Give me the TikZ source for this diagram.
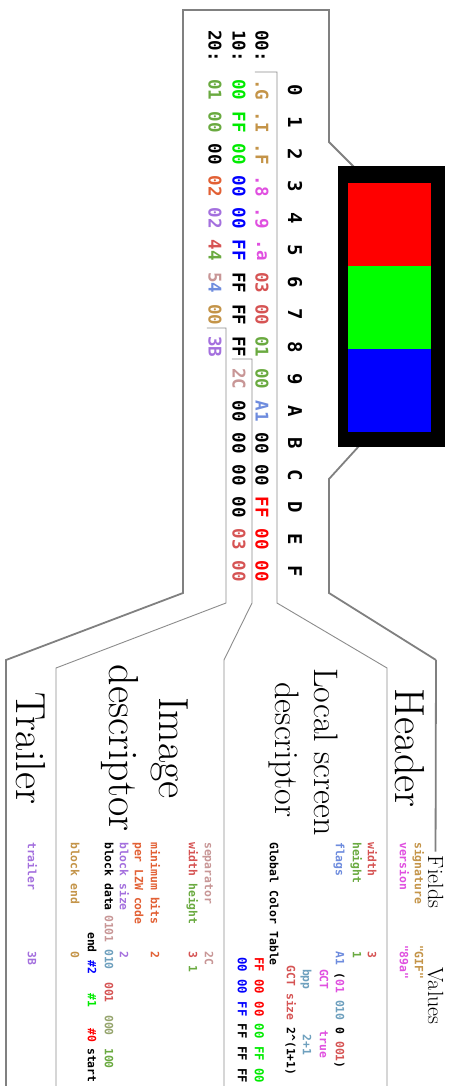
\documentclass[tikz,border=0pt]{standalone}
\usepackage{fontspec}
\newfontfamily\monof{DejaVu Sans Mono}
\definecolor{cgold}{RGB}{196,148,72}
\definecolor{cmag}{RGB}{224,80,224}
\definecolor{csal}{RGB}{214,84,84}
\definecolor{colive}{RGB}{106,170,64}
\definecolor{csteel}{RGB}{110,140,222}
\definecolor{cteal}{RGB}{110,160,190}
\definecolor{crosy}{RGB}{200,150,150}
\definecolor{corange}{RGB}{226,96,52}
\definecolor{cpurple}{RGB}{164,112,222}
\definecolor{cmix}{RGB}{150,165,110}
\definecolor{cred}{RGB}{255,0,0}
\definecolor{cgreen}{RGB}{0,235,0}
\definecolor{cblue}{RGB}{0,0,255}
\definecolor{clinek}{RGB}{128,128,128}
\definecolor{clinet}{RGB}{140,140,140}
\begin{document}
\begin{tikzpicture}[x=1pt,y=1pt,
  thickl/.style={draw=clinek, line width=1.8pt},
  thinl/.style={draw=clinet, line width=0.9pt},
  hexd/.style={font=\monof\bfseries\fontsize{17.5}{17.5}\selectfont, inner sep=0pt},
  hexh/.style={font=\monof\bfseries\fontsize{19}{19}\selectfont, inner sep=0pt},
  fld/.style={font=\monof\bfseries\fontsize{11.4}{11.4}\selectfont, inner sep=0pt, anchor=mid west},
  gctv/.style={font=\monof\bfseries\fontsize{12.3}{12.3}\selectfont, inner sep=0pt, anchor=mid west},
  ttl/.style={font=\fontsize{42}{50}\selectfont, inner sep=0pt, anchor=base},
  ttls/.style={font=\fontsize{34}{41}\selectfont, inner sep=0pt, anchor=base},
  lbl/.style={font=\fontsize{22}{26}\selectfont, inner sep=0pt, anchor=base},
]
\begin{scope}[rotate=-90, transform shape]
\useasboundingbox (0,0) rectangle (1086,-449);
\fill[white] (0,0) rectangle (1086,-449);

% ---------- connector / frame lines ----------
\draw[thickl] (440,-84.5) -- (479,-120) -- (593,-120) -- (660,-13) coordinate (ftop);
\draw[thickl] (172,-90) -- (142,-120) -- (10,-120) -- (10,-266) -- (593,-266) -- (660,-443) -- (1086,-443);
\draw[thinl] (72,-194) -- (72,-172) -- (603,-172) -- (668,-62) -- (1086,-62);
\draw[thinl] (359,-217) -- (359,-197) -- (603,-197) -- (660,-225) -- (1086,-225);
\draw[thinl] (328,-242) -- (328,-223) -- (603,-223) -- (668,-393) -- (1086,-393);

% ---------- magnified image ----------
\fill[black] (166,-4.5) rectangle (447,-111);
\fill[cred] (183,-18) rectangle (266,-101);
\fill[green] (266,-18) rectangle (349,-101);
\fill[cblue] (349,-18) rectangle (432,-101);

% ---------- hex dump ----------
\foreach \c/\t in {0/0,1/1,2/2,3/3,4/4,5/5,6/6,7/7,8/8,9/9,10/A,11/B,12/C,13/D,14/E,15/F}
  \node[hexh] (ch-\c) at ({90+32.1*\c},-154) {\t};
\node[hexd] (rl0) at (46,-187) {00:};
\node[hexd] (rl1) at (46,-210) {10:};
\node[hexd] (rl2) at (46,-234) {20:};
\foreach \c/\t/\k in {0/.G/cgold,1/.I/cgold,2/.F/cgold,3/.8/cmag,4/.9/cmag,5/.a/cmag,
  6/03/csal,7/00/csal,8/01/colive,9/00/colive,10/A1/csteel,11/00/black,12/00/black,
  13/FF/cred,14/00/cred,15/00/cred}
  \node[hexd,text=\k] (b0-\c) at ({90+32.1*\c},-187) {\t};
\foreach \c/\t/\k in {0/00/cgreen,1/FF/cgreen,2/00/cgreen,3/00/cblue,4/00/cblue,5/FF/cblue,
  6/FF/black,7/FF/black,8/FF/black,9/2C/crosy,10/00/black,11/00/black,12/00/black,
  13/00/black,14/03/csal,15/00/csal}
  \node[hexd,text=\k] (b1-\c) at ({90+32.1*\c},-210) {\t};
\foreach \c/\t/\k in {0/01/colive,1/00/colive,2/00/black,3/02/corange,4/02/cpurple,
  7/00/cgold,8/3B/cpurple}
  \node[hexd,text=\k] (b2-\c) at ({90+32.1*\c},-234) {\t};
\node[hexd] (b2-5) at ({90+32.1*5},-234) {\textcolor{csal}{4}\textcolor{colive}{4}};
\node[hexd] (b2-6) at ({90+32.1*6},-234) {\textcolor{crosy}{5}\textcolor{csteel}{4}};

% ---------- section titles ----------
\node[ttl] (thdr) at (748,-54) {Header};
\node[ttls] (tlsd1) at (752,-134) {Local screen};
\node[ttls] (tlsd2) at (750,-173) {descriptor};
\node[ttl] (timg1) at (748,-289) {Image};
\node[ttl] (timg2) at (748,-339) {descriptor};
\node[ttl] (ttrl) at (748,-432) {Trailer};

\node[lbl] (fields) at (882,-21) {Fields};
\node[lbl] (values) at (996,-21) {Values};
\draw[thickl] (ftop) -- ([xshift=-4pt]fields.west);

% ---------- fields ----------
\def\cw{6.86}
% header
\node[fld,text=cgold] (f-sig) at (842,-32) {signature};
\node[fld,text=cgold] (v-sig) at ({842+15*\cw},-32) {"GIF"};
\node[fld,text=cmag] (f-ver) at (842,-47) {version};
\node[fld,text=cmag] (v-ver) at ({842+15*\cw},-47) {"89a"};
% logical screen descriptor
\node[fld,text=csal] (f-w) at (842,-79) {width};
\node[fld,text=csal] (v-w) at ({842+16*\cw},-79) {3};
\node[fld,text=colive] (f-h) at (842,-94) {height};
\node[fld,text=colive] (v-h) at ({842+16*\cw},-94) {1};
\node[fld,text=csteel] (f-fl) at (842,-111) {flags};
\node[fld] (v-fl) at ({842+16*\cw},-111) {\textcolor{csteel}{A1} (\textcolor{cmag}{01} \textcolor{cteal}{010} 0 \textcolor{csal}{001})};
\node[fld,text=cmag] (f-gct) at ({842+18.5*\cw},-127) {GCT};
\node[fld,text=cmag] (v-gct) at ({842+27.5*\cw},-127) {true};
\node[fld,text=cteal] (f-bpp) at ({842+18.5*\cw},-144) {bpp};
\node[fld,text=cteal] (v-bpp) at ({842+28*\cw},-144) {2+1};
\node[fld,text=csal] (f-gsz) at ({842+18*\cw},-160) {GCT size};
\node[fld] (v-gsz) at ({842+27*\cw},-160) {2\^{}(1+1)};
\node[fld] (f-gtab) at (842,-177) {Global Color Table};
\node[gctv] (v-gt1) at (957,-192) {\textcolor{cred}{FF 00 00} \textcolor{cgreen}{00 FF 00}};
\node[gctv] (v-gt2) at (957,-209) {\textcolor{cblue}{00 00 FF} FF FF FF};
% image descriptor
\node[fld,text=crosy] (f-sep) at (842,-242) {separator};
\node[fld,text=crosy] (v-sep) at ({842+16*\cw},-242) {2C};
\node[fld] (f-wh) at (842,-258) {\textcolor{csal}{width} \textcolor{colive}{height}};
\node[fld] (v-wh) at ({842+16*\cw},-258) {\textcolor{csal}{3} \textcolor{colive}{1}};
\node[fld,text=corange] (f-min) at (842,-296) {minimum bits};
\node[fld,text=corange] (v-min) at ({842+16*\cw},-296) {2};
\node[fld,text=corange] (f-lzw) at (842,-312) {per LZW code};
\node[fld,text=cpurple] (f-bs) at (842,-327) {block size};
\node[fld,text=cpurple] (v-bs) at ({842+16*\cw},-327) {2};
\node[fld] (f-bd) at (842,-342) {block data};
\node[fld,text=crosy] (v-bd1) at (915,-342) {0101};
\node[fld,text=cteal] (v-bd2) at (949,-342) {010};
\node[fld,text=csal] (v-bd3) at (982,-342) {001};
\node[fld,text=cmix] (v-bd4) at (1015,-342) {000};
\node[fld,text=colive] (v-bd5) at (1048,-342) {100};
\node[fld] (c-end) at (932,-359) {end};
\node[fld,text=cblue] (c-2) at (960,-359) {\#2};
\node[fld,text=cgreen] (c-1) at (993,-359) {\#1};
\node[fld,text=cred] (c-0) at (1028,-359) {\#0};
\node[fld] (c-start) at (1048,-359) {start};
\node[fld,text=cgold] (f-be) at (842,-376) {block end};
\node[fld,text=cgold] (v-be) at ({842+16*\cw},-376) {0};
% trailer
\node[fld,text=cpurple] (f-tr) at (842,-419) {trailer};
\node[fld,text=cpurple] (v-tr) at ({842+16*\cw},-419) {3B};
\end{scope}
\end{tikzpicture}
\end{document}
